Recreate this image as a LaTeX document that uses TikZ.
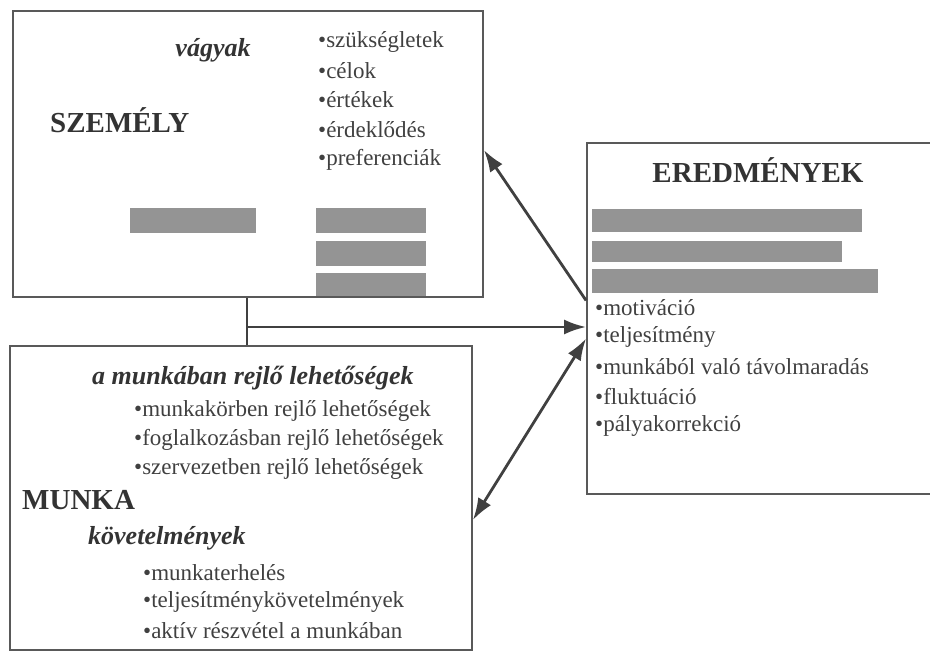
\documentclass[tikz,border=0pt]{standalone}
\usepackage{fontspec}
\setmainfont{Liberation Serif}
\usepackage{tikz}
\usetikzlibrary{arrows.meta}

\begin{document}
\begin{tikzpicture}[x=1pt, y=-1pt,
    box/.style={draw=black!65, line width=1.8pt, rectangle, inner sep=0pt},
    head/.style={text=black!80, font=\fontsize{29}{32}\selectfont\bfseries},
    sub/.style={text=black!80, font=\fontsize{26}{30}\selectfont\bfseries\itshape},
    item/.style={text=black!75, anchor=west, inner sep=0pt, font=\fontsize{23}{27}\selectfont},
    smudge/.style={fill=black!42},
    arr/.style={draw=black!75, line width=2.8pt, -{Latex[length=22pt,width=15pt]}},
    darr/.style={draw=black!75, line width=2.8pt, {Latex[length=22pt,width=15pt]}-{Latex[length=22pt,width=15pt]}}]
    \useasboundingbox (0,0) rectangle (930,652);
    \node[box, minimum width=470pt, minimum height=286pt] (szemely) at (248, 154) {};
    \node[box, minimum width=360pt, minimum height=351pt] (eredmeny) at (767, 318.5) {};
    \node[box, minimum width=462pt, minimum height=304pt] (munka) at (241, 498) {};
    % szemely
    \node[sub] (vagyak) at (213, 50) {vágyak};
    \node[head, anchor=west, inner sep=0pt] (szlabel) at (50, 120) {SZEMÉLY};
    \node[item] (s1) at (318, 42) {\textbullet szükségletek};
    \node[item] (s2) at (318, 71) {\textbullet célok};
    \node[item] (s3) at (318, 100) {\textbullet értékek};
    \node[item] (s4) at (318, 130) {\textbullet érdeklődés};
    \node[item] (s5) at (318, 160) {\textbullet preferenciák};
    \fill[smudge] (130, 208) rectangle (256, 233);
    \fill[smudge] (316, 208) rectangle (426, 233);
    \fill[smudge] (316, 241) rectangle (426, 266);
    \fill[smudge] (316, 273) rectangle (426, 296);
    % eredmenyek
    \node[head] (erlabel) at (758, 170) {EREDMÉNYEK};
    \fill[smudge] (592, 209) rectangle (862, 232);
    \fill[smudge] (592, 241) rectangle (842, 262);
    \fill[smudge] (592, 269) rectangle (878, 293);
    \node[item] (e1) at (595, 308) {\textbullet motiváció};
    \node[item] (e2) at (595, 337) {\textbullet teljesítmény};
    \node[item] (e3) at (595, 367) {\textbullet munkából való távolmaradás};
    \node[item] (e4) at (595, 397) {\textbullet fluktuáció};
    \node[item] (e5) at (595, 426) {\textbullet pályakorrekció};
    % munka
    \node[sub, anchor=west, inner sep=0pt] (lehet) at (92, 378) {a munkában rejlő lehetőségek};
    \node[item] (m1) at (134, 411) {\textbullet munkakörben rejlő lehetőségek};
    \node[item] (m2) at (134, 440) {\textbullet foglalkozásban rejlő lehetőségek};
    \node[item] (m3) at (134, 469) {\textbullet szervezetben rejlő lehetőségek};
    \node[head, anchor=west, inner sep=0pt] (mulabel) at (22, 500) {MUNKA};
    \node[sub, anchor=west, inner sep=0pt] (kovet) at (88, 538) {követelmények};
    \node[item] (k1) at (143, 573) {\textbullet munkaterhelés};
    \node[item] (k2) at (143, 602) {\textbullet teljesítménykövetelmények};
    \node[item] (k3) at (143, 631) {\textbullet aktív részvétel a munkában};
    % connectors
    \coordinate (split) at (247, 327);
    \draw[draw=black!75, line width=2.2pt] (split |- szemely.south) -- (split |- munka.north);
    \draw[arr] (split) -- (split -| eredmeny.west);
    \draw[arr] ([yshift=18pt]eredmeny.west) -- ([yshift=4pt]szemely.east);
    \draw[darr] ([yshift=-20pt]eredmeny.west) -- ([yshift=-22pt]munka.east);
\end{tikzpicture}
\end{document}
